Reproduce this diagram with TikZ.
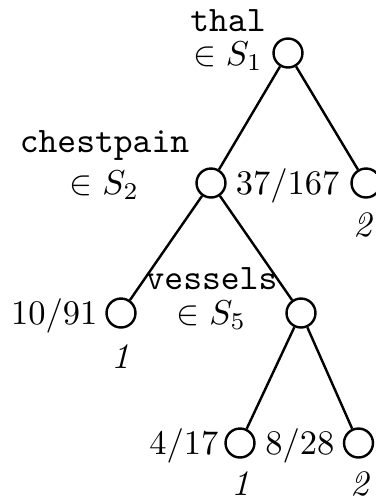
\documentclass[tikz,border=0pt]{standalone}
\begin{document}
\begin{tikzpicture}[x=0.29pt,y=-0.29pt,
  every node/.style={font=\fontsize{10.4}{12.5}\selectfont},
  tn/.style={circle,draw,line width=0.7pt,minimum size=8.4pt,inner sep=0pt},
  edge/.style={line width=0.7pt},
  lab/.style={anchor=base,inner sep=0pt,align=center},
  frac/.style={anchor=base east,inner sep=0pt},
  cls/.style={anchor=base,inner sep=0pt,font=\fontsize{10.4}{12.5}\selectfont\itshape}]
\useasboundingbox (0,0) rectangle (376,497);
% tree nodes
\node[tn] (r)  at (288,53) {};
\node[tn] (n2) at (211,183) {};
\node[tn] (l2) at (366,183) {};
\node[tn] (l3) at (121,313) {};
\node[tn] (n5) at (301,313) {};
\node[tn] (l4) at (240,443) {};
\node[tn] (l5) at (358.5,443) {};
% edges
\draw[edge] (r) -- (n2);
\draw[edge] (r) -- (l2);
\draw[edge] (n2) -- (l3);
\draw[edge] (n2) -- (n5);
\draw[edge] (n5) -- (l4);
\draw[edge] (n5) -- (l5);
% split labels (base = baseline of the last line)
\node[lab] (t1) at (228,65) {\texttt{thal}\\[-2.9pt]$\in S_1$};
\node[lab] (t2) at (104.5,194) {\texttt{chestpain}\\[-0.6pt]$\in S_2$};
\node[lab] (t5) at (211.5,324) {\texttt{vessels}\\[-2.4pt]$\in S_5$};
% leaf counts
\node[frac] (f2) at (340,194) {$37/167$};
\node[frac] (f3) at (98,324) {$10/91$};
\node[frac] (f4) at (219,454) {$4/17$};
\node[frac] (f5) at (335,454) {$8/28$};
% leaf classes
\node[cls] (c2) at (363,236) {2};
\node[cls] (c3) at (121,368) {1};
\node[cls] (c4) at (241,495) {1};
\node[cls] (c5) at (360,495) {2};
\end{tikzpicture}
\end{document}
